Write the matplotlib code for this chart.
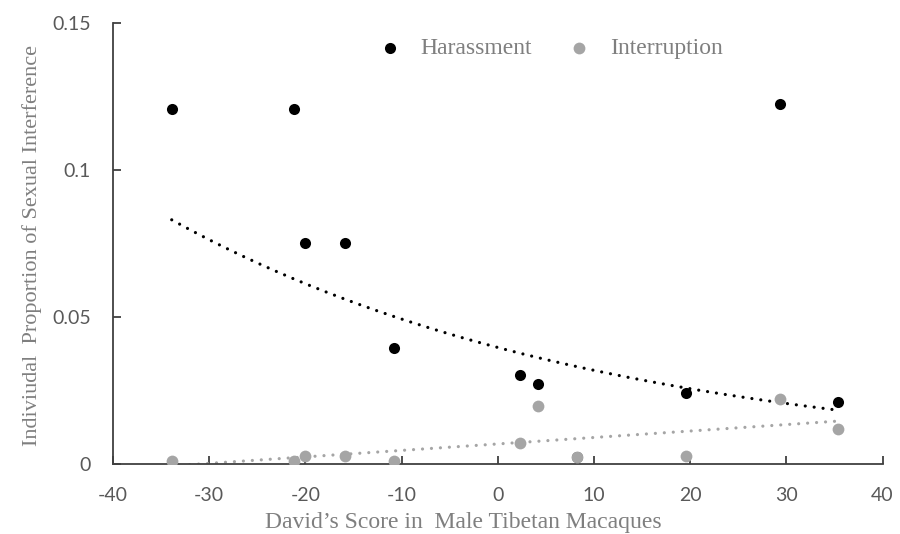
import numpy as np
import matplotlib.pyplot as plt

plt.rcParams["axes.unicode_minus"] = False

# David's score of each male and proportion of sexual interference
# (the harassment value at 8.2 sits under the grey interruption dot)
score_h = [-33.9, -21.2, -20.0, -15.9, -10.8, 2.3, 4.2, 8.2, 19.6, 29.3, 35.4]
harass = [0.1205, 0.1205, 0.0750, 0.0750, 0.0395, 0.0303, 0.0272, 0.0024, 0.0242, 0.1224, 0.0212]

score_i = [-33.9, -21.2, -20.0, -15.9, -10.8, 2.3, 4.2, 8.2, 19.6, 29.3, 35.4]
interrupt = [0.0010, 0.0010, 0.0029, 0.0029, 0.0010, 0.0070, 0.0196, 0.0024, 0.0027, 0.0222, 0.0118]

xticks = [-40, -30, -20, -10, 0, 10, 20, 30, 40]
yticks = [0, 0.05, 0.1, 0.15]
ytick_labels = ["0", "0.05", "0.1", "0.15"]

axis_col = "#404040"
tick_col = "#595959"
label_col = "#7f7f7f"
gray = "#a5a5a5"
serif = "Liberation Serif"

fig = plt.figure(figsize=(9, 5.34), dpi=100)
ax = fig.add_axes([0.1256, 0.131, 0.855, 0.8265])

ax.scatter(score_h, harass, s=64, color="black", linewidths=0, zorder=3, label="Harassment")
ax.scatter(score_i, interrupt, s=72, color=gray, linewidths=0, zorder=4, label="Interruption")

dots = (0, (0.01, 2.8))

# exponential trendline (fit on log y) for harassment
xh = np.array(score_h)
b, a = np.polyfit(xh, np.log(harass), 1)
xx = np.linspace(xh.min(), xh.max(), 200)
ax.plot(xx, np.exp(a + b * xx), color="black", lw=2.3,
        linestyle=dots, dash_capstyle="round", zorder=2)

# linear trendline for interruption
xi = np.array(score_i)
m, c = np.polyfit(xi, interrupt, 1)
xx = np.linspace(xi.min(), xi.max(), 200)
ax.plot(xx, m * xx + c, color=gray, lw=2.3,
        linestyle=dots, dash_capstyle="round", zorder=2)

ax.set_xlim(-40, 40)
ax.set_ylim(0, 0.15)
ax.set_xticks(xticks)
ax.set_yticks(yticks)
ax.set_yticklabels(ytick_labels)

for s in ["top", "right"]:
    ax.spines[s].set_visible(False)
for s in ["left", "bottom"]:
    ax.spines[s].set_color(axis_col)
    ax.spines[s].set_linewidth(1.3)

ax.tick_params(direction="in", length=6, width=1.3, color=axis_col,
               labelcolor=tick_col, labelsize=14)
ax.tick_params(axis="y", pad=16)
ax.tick_params(axis="x", pad=16.5)
for lab in ax.get_xticklabels() + ax.get_yticklabels():
    lab.set_family("Lato")

ax.set_xlabel("David\u2019s Score in  Male Tibetan Macaques", family=serif,
              fontsize=17, color=label_col)
ax.xaxis.set_label_coords(0.455, -0.109)
ax.set_ylabel("Indiviudal  Proportion of Sexual Interference", family=serif,
              fontsize=16, color=label_col)
ax.yaxis.set_label_coords(-0.092, 0.495)

leg = fig.legend(loc="upper left", bbox_to_anchor=(0.42, 0.929), ncol=2, frameon=False,
                 prop={"family": serif, "size": 17}, handlelength=1.0, handletextpad=0.8,
                 columnspacing=1.5, borderpad=0, borderaxespad=0, scatterpoints=1)
for t in leg.get_texts():
    t.set_color(label_col)

fig.savefig("out.png", dpi=100)
